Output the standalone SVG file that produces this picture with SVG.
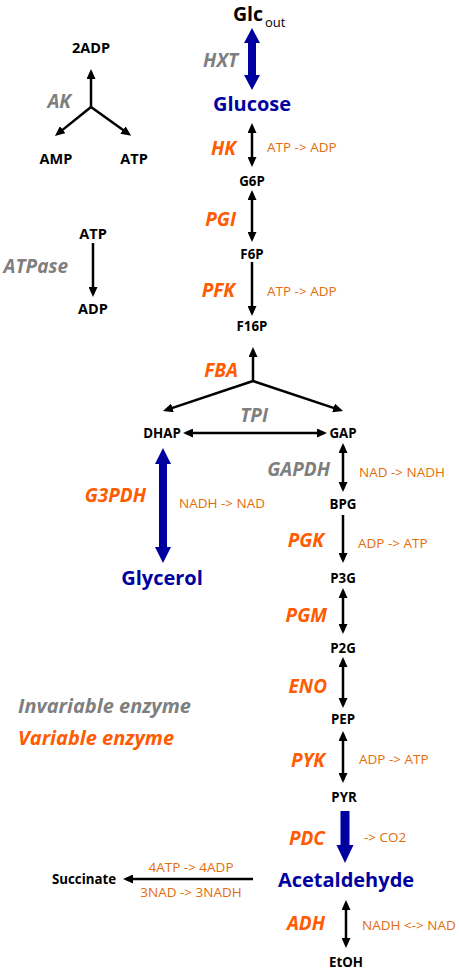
<svg xmlns="http://www.w3.org/2000/svg" width="459" height="972" viewBox="0 0 459 972">
<style>
text{font-family:"Open Sans","Noto Sans","Liberation Sans",sans-serif}
.m{font-weight:bold;font-size:13.3px;fill:#000;text-anchor:middle}
.l{font-weight:bold;font-size:14.5px;fill:#000;text-anchor:middle}
.big{font-weight:bold;font-size:20px;fill:#0000A0;text-anchor:middle}
.ev{font-weight:bold;font-style:italic;font-size:19px;fill:#FF5B00;text-anchor:end}
.ei{font-weight:bold;font-style:italic;font-size:19px;fill:#7F7F7F;text-anchor:end}
.co{font-size:13.5px;fill:#E46C0A}
.ln{stroke:#000;stroke-width:2.5;fill:none;marker-end:url(#ah)}
.dl{stroke:#000;stroke-width:2.5;fill:none;marker-end:url(#ah);marker-start:url(#ah)}
.bl{fill:#0000A0}
</style>
<defs>
<marker id="ah" markerUnits="userSpaceOnUse" markerWidth="10" markerHeight="9" refX="7" refY="4.5" orient="auto-start-reverse" viewBox="0 0 10 9">
<path d="M0,0 L10,4.5 L0,9 z" fill="#000"/>
</marker>
</defs>
<g id="connectors">
<polygon class="bl" points="252,28 260,43 256,43 256,75 260,75 252,90 244,75 248,75 248,43 244,43"/>
<polygon class="bl" points="163,448 171,464 167,464 167,547 171,547 163,563 155,547 159,547 159,464 155,464"/>
<polygon class="bl" points="340.5,811 349.5,811 349.5,845 353.5,845 345,863 336.5,845 340.5,845"/>
<path class="ln" d="M91,107 L91,72"/>
<path class="ln" d="M91,107 L57.3,134.1"/>
<path class="ln" d="M91,107 L128.7,134.1"/>
<path class="ln" d="M93,243 L93,294"/>
<path class="dl" d="M252,126 L252,164"/>
<path class="dl" d="M252,193 L252,239"/>
<path class="ln" d="M252,262 L252,313"/>
<path class="ln" d="M253,381 L253,350"/>
<path class="ln" d="M253,381 L165.8,410.1"/>
<path class="ln" d="M253,381 L340.2,410.1"/>
<path class="dl" d="M186,433 L324,433"/>
<path class="dl" d="M343,446 L343,489"/>
<path class="ln" d="M343,515 L343,560"/>
<path class="dl" d="M343,591 L343,631"/>
<path class="dl" d="M343,660 L343,705"/>
<path class="dl" d="M343,734 L343,780"/>
<path class="ln" d="M253,879 L126,879"/>
<path class="dl" d="M346,903 L346,945"/>
</g>
<g id="glc_out"><text x="233" y="21" style="font-weight:bold;font-size:19.5px;fill:#000">Glc<tspan x="265" y="27" style="font-size:13px;font-weight:normal">out</tspan></text></g>
<g id="hxt"><text class="ei" x="238" y="67">HXT</text></g>
<g id="glucose"><text class="big" x="252" y="111">Glucose</text></g>
<g id="hk"><text class="ev" x="236" y="155">HK</text><text class="co" x="267" y="152">ATP -&gt; ADP</text></g>
<g id="g6p"><text class="m" x="252" y="186">G6P</text></g>
<g id="pgi"><text class="ev" x="236" y="226">PGI</text></g>
<g id="f6p"><text class="m" x="252" y="259">F6P</text></g>
<g id="pfk"><text class="ev" x="235" y="297">PFK</text><text class="co" x="267" y="296">ATP -&gt; ADP</text></g>
<g id="f16p"><text class="m" x="252" y="331">F16P</text></g>
<g id="fba"><text class="ev" x="238" y="377">FBA</text></g>
<g id="tpi"><text class="ei" x="268" y="422">TPI</text></g>
<g id="dhap"><text class="m" x="162" y="438">DHAP</text></g>
<g id="gap"><text class="m" x="343" y="438">GAP</text></g>
<g id="gapdh"><text class="ei" x="330" y="476">GAPDH</text><text class="co" x="359" y="477">NAD -&gt; NADH</text></g>
<g id="g3pdh"><text class="ev" x="146" y="502">G3PDH</text><text class="co" x="179" y="508">NADH -&gt; NAD</text></g>
<g id="bpg"><text class="m" x="343" y="509">BPG</text></g>
<g id="pgk"><text class="ev" x="324" y="547">PGK</text><text class="co" x="358" y="548">ADP -&gt; ATP</text></g>
<g id="p3g"><text class="m" x="343" y="583">P3G</text></g>
<g id="glycerol"><text class="big" x="162" y="585">Glycerol</text></g>
<g id="pgm"><text class="ev" x="327" y="622">PGM</text></g>
<g id="p2g"><text class="m" x="343" y="653">P2G</text></g>
<g id="eno"><text class="ev" x="327" y="693">ENO</text></g>
<g id="pep"><text class="m" x="343" y="724">PEP</text></g>
<g id="pyk"><text class="ev" x="325" y="767">PYK</text><text class="co" x="359" y="764">ADP -&gt; ATP</text></g>
<g id="pyr"><text class="m" x="344" y="802">PYR</text></g>
<g id="pdc"><text class="ev" x="325" y="845">PDC</text><text class="co" x="364" y="842">-&gt; CO2</text></g>
<g id="acetaldehyde"><text class="big" x="346" y="887">Acetaldehyde</text></g>
<g id="succinate"><text class="m" x="84" y="884">Succinate</text><text class="co" x="191" y="872" text-anchor="middle">4ATP -&gt; 4ADP</text><text class="co" x="191" y="897" text-anchor="middle">3NAD -&gt; 3NADH</text></g>
<g id="adh"><text class="ev" x="325" y="930">ADH</text><text class="co" x="362" y="930">NADH &lt;-&gt; NAD</text></g>
<g id="etoh"><text class="m" x="346" y="967">EtOH</text></g>
<g id="adp2"><text class="l" x="91" y="53">2ADP</text></g>
<g id="ak"><text class="ei" x="71" y="108">AK</text></g>
<g id="amp"><text class="l" x="56" y="164">AMP</text></g>
<g id="atp1"><text class="l" x="134" y="164">ATP</text></g>
<g id="atp2"><text class="l" x="93" y="239">ATP</text></g>
<g id="atpase"><text class="ei" x="68" y="273">ATPase</text></g>
<g id="adp"><text class="l" x="93" y="314">ADP</text></g>
<g id="legend"><text x="18" y="713" style="font-weight:bold;font-style:italic;font-size:20px;fill:#7F7F7F">Invariable enzyme</text><text x="18" y="745" style="font-weight:bold;font-style:italic;font-size:20px;fill:#FF5B00">Variable enzyme</text></g>
</svg>
